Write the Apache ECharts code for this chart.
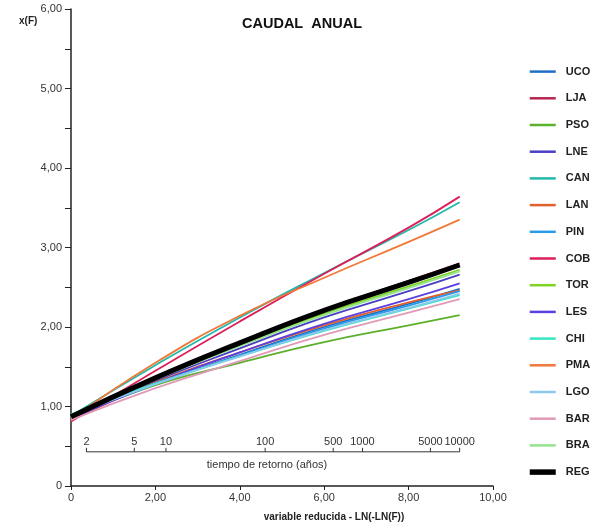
<!DOCTYPE html>
<html>
<head>
<meta charset="utf-8">
<script src="https://cdn.jsdelivr.net/npm/echarts@6/dist/echarts.min.js"></script>
<style>
html, body { margin: 0; padding: 0; background: #fff; }
#chart { width: 612px; height: 528px; }
</style>
</head>
<body>
<div id="chart"></div>
<script>
// variable reducida en la que se leen las curvas
var xPoints = [0, 2, 4, 6, 8, 9.21];

var UCO = [0.86, 1.28, 1.65, 2.00, 2.29, 2.48];
var LJA = [0.82, 1.34, 1.80, 2.22, 2.58, 2.80];
var PSO = [0.86, 1.27, 1.55, 1.81, 2.02, 2.15];
var LNE = [0.85, 1.32, 1.73, 2.12, 2.45, 2.66];
var CAN = [0.88, 1.52, 2.12, 2.68, 3.22, 3.57];
var LAN = [0.83, 1.30, 1.68, 2.02, 2.31, 2.46];
var PIN = [0.87, 1.28, 1.64, 1.98, 2.27, 2.45];
var COB = [0.81, 1.45, 2.07, 2.67, 3.25, 3.64];
var TOR = [0.86, 1.34, 1.77, 2.17, 2.51, 2.72];
var LES = [0.85, 1.29, 1.68, 2.04, 2.35, 2.55];
var CHI = [0.90, 1.29, 1.63, 1.95, 2.23, 2.40];
var PMA = [0.84, 1.55, 2.14, 2.62, 3.07, 3.35];
var LGO = [0.88, 1.28, 1.63, 1.96, 2.24, 2.42];
var BAR = [0.83, 1.23, 1.57, 1.90, 2.18, 2.35];
var BRA = [0.86, 1.34, 1.76, 2.15, 2.49, 2.70];
var REG = [0.87, 1.36, 1.80, 2.21, 2.56, 2.78];

// escala auxiliar de tiempo de retorno
var returnPeriods = [2, 5, 10, 100, 500, 1000, 5000, 10000];
var RP_AXIS_Y = 0.43;

var FONT = 'Liberation Sans, Arial, sans-serif';

var stations = [
	{ name: 'UCO', data: UCO, color: '#1f6fc6' },
	{ name: 'LJA', data: LJA, color: '#b82450' },
	{ name: 'PSO', data: PSO, color: '#5bb02c' },
	{ name: 'LNE', data: LNE, color: '#4a3ec4' },
	{ name: 'CAN', data: CAN, color: '#22b8ac' },
	{ name: 'LAN', data: LAN, color: '#e2602a' },
	{ name: 'PIN', data: PIN, color: '#2a9ae6' },
	{ name: 'COB', data: COB, color: '#dc1f58' },
	{ name: 'TOR', data: TOR, color: '#7fd322' },
	{ name: 'LES', data: LES, color: '#5a40e0' },
	{ name: 'CHI', data: CHI, color: '#38e6c0' },
	{ name: 'PMA', data: PMA, color: '#f07838' },
	{ name: 'LGO', data: LGO, color: '#8cc8ee' },
	{ name: 'BAR', data: BAR, color: '#e09ab8' },
	{ name: 'BRA', data: BRA, color: '#94e28e' },
	{ name: 'REG', data: REG, color: '#000000' }
];

function reducedVariable(T){
	return -Math.log(-Math.log(1 - 1 / T));
}

function fmt(v){
	if(v === 0) return '0';
	return v.toFixed(2).replace('.', ',');
}

var series = [];
for(var i = 0; i < stations.length; i++){
	var st = stations[i];
	var pts = [];
	for(var j = 0; j < xPoints.length; j++){
		pts.push([xPoints[j], st.data[j]]);
	}
	series.push({
		name: st.name,
		type: 'line',
		data: pts,
		smooth: true,
		symbol: 'none',
		color: st.color,
		lineStyle: { width: st.name == 'REG' ? 5 : 1.8, color: st.color },
		z: st.name == 'REG' ? 5 : 3,
		silent: true
	});
}

// linea base de la escala de tiempo de retorno
series.push({
	name: 'rp-base',
	type: 'line',
	data: [[reducedVariable(returnPeriods[0]), RP_AXIS_Y], [reducedVariable(returnPeriods[returnPeriods.length - 1]), RP_AXIS_Y]],
	symbol: 'none',
	silent: true,
	lineStyle: { width: 1, color: '#333' }
});

// marcas y etiquetas de la escala de tiempo de retorno
var rpData = [];
for(var k = 0; k < returnPeriods.length; k++){
	rpData.push([reducedVariable(returnPeriods[k]), RP_AXIS_Y, returnPeriods[k]]);
}
series.push({
	name: 'rp-ticks',
	type: 'custom',
	silent: true,
	data: rpData,
	renderItem: function(params, api){
		var p = api.coord([api.value(0), api.value(1)]);
		return {
			type: 'group',
			children: [
				{ type: 'line', shape: { x1: p[0], y1: p[1], x2: p[0], y2: p[1] - 4 }, style: { stroke: '#333', lineWidth: 1 } },
				{ type: 'text', x: p[0], y: p[1] - 4, style: { text: String(api.value(2)), fill: '#333', font: '11px ' + FONT, align: 'center', verticalAlign: 'bottom' } }
			]
		};
	}
});

var legendData = [];
for(var m = 0; m < stations.length; m++){
	legendData.push({
		name: stations[m].name,
		lineStyle: { width: stations[m].name == 'REG' ? 5.5 : 2.5 }
	});
}

var chart = echarts.init(document.getElementById('chart'));
chart.setOption({
	animation: false,
	backgroundColor: '#fff',
	title: [
		{ text: 'CAUDAL  ANUAL', left: 297, top: 11, textAlign: 'center', textStyle: { fontFamily: FONT, fontSize: 14.5, fontWeight: 'bold', color: '#111' } },
		{ text: 'x(F)', left: 14, top: 11, textStyle: { fontFamily: FONT, fontSize: 10, fontWeight: 'bold', color: '#222' } },
		{ text: 'tiempo de retorno (años)', left: 262, top: 454, textAlign: 'center', textStyle: { fontFamily: FONT, fontSize: 11, fontWeight: 'normal', color: '#333' } },
		{ text: 'variable reducida - LN(-LN(F))', left: 329, top: 507, textAlign: 'center', textStyle: { fontFamily: FONT, fontSize: 10, fontWeight: 'bold', color: '#222' } }
	],
	legend: {
		data: legendData,
		orient: 'vertical',
		left: 522,
		top: 61,
		itemWidth: 26,
		itemHeight: 14,
		itemGap: 15.5,
		itemStyle: { opacity: 0 },
		textStyle: { fontFamily: FONT, fontSize: 11, fontWeight: 'bold', color: '#222', padding: [0, 0, 0, 5] },
		selectedMode: false
	},
	grid: { left: 71, right: 119, top: 9, bottom: 42 },
	xAxis: {
		type: 'value',
		min: 0,
		max: 10,
		interval: 2,
		splitLine: { show: false },
		axisLine: { lineStyle: { color: '#222', width: 1.5 } },
		axisTick: { length: 4, lineStyle: { color: '#222' } },
		axisLabel: { formatter: fmt, color: '#333', fontFamily: FONT, fontSize: 11, margin: 6 }
	},
	yAxis: {
		type: 'value',
		min: 0,
		max: 6,
		interval: 1,
		splitLine: { show: false },
		axisLine: { show: true, lineStyle: { color: '#222', width: 1.5 } },
		axisTick: { show: true, length: 6, lineStyle: { color: '#222' } },
		minorTick: { show: true, splitNumber: 2, length: 6, lineStyle: { color: '#222' } },
		axisLabel: { formatter: fmt, color: '#333', fontFamily: FONT, fontSize: 11, margin: 9 }
	},
	series: series
});
</script>
</body>
</html>
